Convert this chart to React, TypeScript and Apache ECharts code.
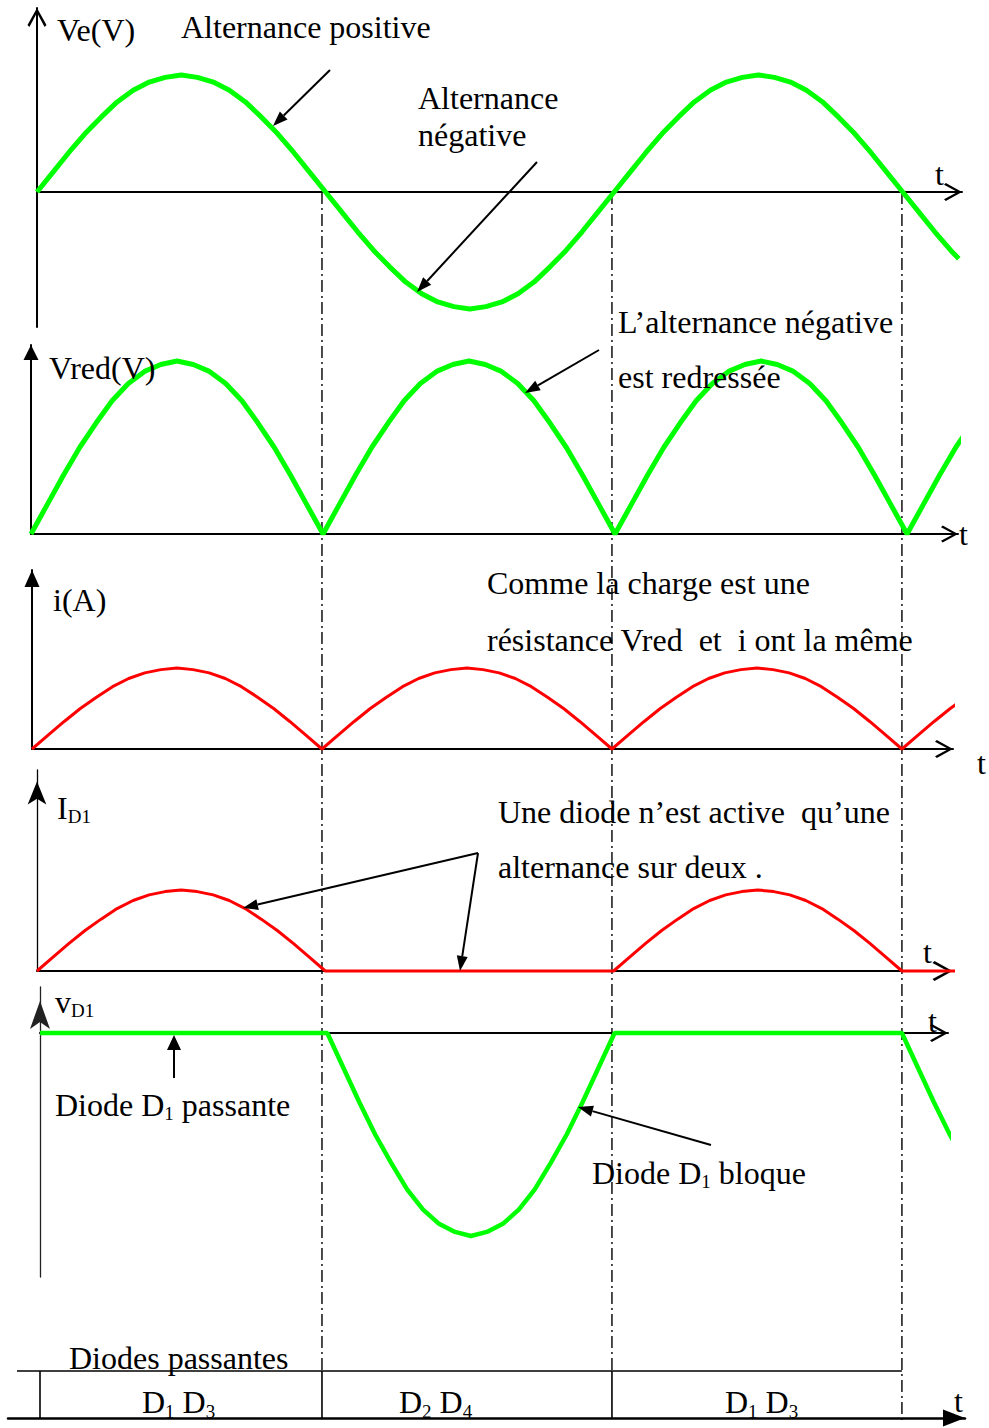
import { useEffect, useRef } from "react";
import * as echarts from "echarts";

// Phase of the supply voltage (degrees) at which each curve is read
const phaseDeg = [
  0, 10, 20, 30, 40, 50, 60, 70, 80, 90, 100, 110, 120, 130, 140, 150, 160, 170, 180,
  190, 200, 210, 220, 230, 240, 250, 260, 270, 280, 290, 300, 310, 320, 330, 340, 350, 360,
  370, 380, 390, 400, 410, 420, 430, 440, 450, 460, 470, 480, 490, 500, 510, 520, 530, 540,
  550, 560, 570, 575,
];

// Ve(V) : supply voltage (normalised)
const veValues = [
  0, 0.17, 0.34, 0.5, 0.64, 0.77, 0.87, 0.94, 0.98, 1, 0.98, 0.94, 0.87, 0.77, 0.64, 0.5, 0.34, 0.17, 0,
  -0.17, -0.34, -0.5, -0.64, -0.77, -0.87, -0.94, -0.98, -1, -0.98, -0.94, -0.87, -0.77, -0.64, -0.5, -0.34, -0.17, 0,
  0.17, 0.34, 0.5, 0.64, 0.77, 0.87, 0.94, 0.98, 1, 0.98, 0.94, 0.87, 0.77, 0.64, 0.5, 0.34, 0.17, 0,
  -0.17, -0.34, -0.5, -0.57,
];

// Vred(V) : rectified voltage
const vredValues = [
  0, 0.17, 0.34, 0.5, 0.64, 0.77, 0.87, 0.94, 0.98, 1, 0.98, 0.94, 0.87, 0.77, 0.64, 0.5, 0.34, 0.17, 0,
  0.17, 0.34, 0.5, 0.64, 0.77, 0.87, 0.94, 0.98, 1, 0.98, 0.94, 0.87, 0.77, 0.64, 0.5, 0.34, 0.17, 0,
  0.17, 0.34, 0.5, 0.64, 0.77, 0.87, 0.94, 0.98, 1, 0.98, 0.94, 0.87, 0.77, 0.64, 0.5, 0.34, 0.17, 0,
  0.17, 0.34, 0.5, 0.57,
];

// i(A) : load current
const iValues = [
  0, 0.17, 0.34, 0.5, 0.64, 0.77, 0.87, 0.94, 0.98, 1, 0.98, 0.94, 0.87, 0.77, 0.64, 0.5, 0.34, 0.17, 0,
  0.17, 0.34, 0.5, 0.64, 0.77, 0.87, 0.94, 0.98, 1, 0.98, 0.94, 0.87, 0.77, 0.64, 0.5, 0.34, 0.17, 0,
  0.17, 0.34, 0.5, 0.64, 0.77, 0.87, 0.94, 0.98, 1, 0.98, 0.94, 0.87, 0.77, 0.64, 0.5, 0.34, 0.17, 0,
  0.17, 0.34, 0.5, 0.57,
];

// ID1 : current in diode D1
const id1Values = [
  0, 0.17, 0.34, 0.5, 0.64, 0.77, 0.87, 0.94, 0.98, 1, 0.98, 0.94, 0.87, 0.77, 0.64, 0.5, 0.34, 0.17, 0,
  0, 0, 0, 0, 0, 0, 0, 0, 0, 0, 0, 0, 0, 0, 0, 0, 0, 0,
  0.17, 0.34, 0.5, 0.64, 0.77, 0.87, 0.94, 0.98, 1, 0.98, 0.94, 0.87, 0.77, 0.64, 0.5, 0.34, 0.17, 0,
  0, 0, 0, 0,
];

// vD1 : voltage across diode D1
const vd1Values = [
  0, 0, 0, 0, 0, 0, 0, 0, 0, 0, 0, 0, 0, 0, 0, 0, 0, 0, 0,
  -0.17, -0.34, -0.5, -0.64, -0.77, -0.87, -0.94, -0.98, -1, -0.98, -0.94, -0.87, -0.77, -0.64, -0.5, -0.34, -0.17, 0,
  0, 0, 0, 0, 0, 0, 0, 0, 0, 0, 0, 0, 0, 0, 0, 0, 0, 0,
  -0.17, -0.34, -0.5, -0.57,
];

// zero crossings of Ve (degrees) and conducting diodes in each half period
const zeroCrossDeg = [180, 360, 540];
const conductingPairs = [
  ["1", "3"],
  ["2", "4"],
  ["1", "3"],
];

const FONT = "'Liberation Serif', 'Times New Roman', serif";
const FS = 32;
const MAIN = `${FS}px ${FONT}`;
const GREEN = "#00ff00";
const RED = "#ff0000";
const CHEVRON = "path://M10,0 L20,18 L18,20 L10,5 L2,20 L0,18 Z";

const noDecor = {
  axisTick: { show: false },
  axisLabel: { show: false },
  splitLine: { show: false },
};

function txt(x: number, y: number, text: string) {
  return {
    type: "text",
    x,
    y,
    z: 100,
    style: { text, font: MAIN, fill: "#000", align: "left", verticalAlign: "middle" },
  };
}

function rich(x: number, y: number, parts: [string, string][], subSize = 19) {
  return {
    type: "text",
    x,
    y,
    z: 100,
    style: {
      text: parts.map(([k, s]) => `{${k}|${s}}`).join(""),
      font: MAIN,
      fill: "#000",
      align: "left",
      verticalAlign: "middle",
      rich: {
        n: { font: MAIN, fill: "#000" },
        s: { font: `${subSize}px ${FONT}`, fill: "#000", verticalAlign: "bottom", height: 14 },
      },
    },
  };
}

function arrow(x1: number, y1: number, x2: number, y2: number, len = 15, w = 11) {
  const a = Math.atan2(y2 - y1, x2 - x1);
  const bx = x2 - len * Math.cos(a);
  const by = y2 - len * Math.sin(a);
  const nx = (-Math.sin(a) * w) / 2;
  const ny = (Math.cos(a) * w) / 2;
  return [
    { type: "line", z: 100, shape: { x1, y1, x2: bx, y2: by }, style: { stroke: "#000", lineWidth: 2 } },
    {
      type: "polygon",
      z: 100,
      shape: { points: [[x2, y2], [bx + nx, by + ny], [bx - nx, by - ny]] },
      style: { fill: "#000" },
    },
  ];
}

function lineSeries(idx: number, values: number[], color: string, width: number) {
  return {
    type: "line",
    xAxisIndex: idx,
    yAxisIndex: idx,
    data: phaseDeg.map((p, i) => [p, values[i]]),
    showSymbol: false,
    symbol: "none",
    clip: false,
    silent: true,
    z: 5,
    lineStyle: { color, width },
  };
}

function xAx(idx: number, max: number, symbol: string, size: number[], width = 2, min = 0) {
  return {
    gridIndex: idx,
    type: "value",
    min,
    max,
    axisLine: {
      show: true,
      onZero: true,
      lineStyle: { color: "#000", width },
      symbol: ["none", symbol],
      symbolSize: size,
      symbolOffset: [0, -size[1] / 2],
    },
    ...noDecor,
  };
}

function yAx(idx: number, min: number, max: number, symbol: string, size: number[], width = 2, color = "#000") {
  return {
    gridIndex: idx,
    type: "value",
    min,
    max,
    axisLine: {
      show: true,
      onZero: false,
      lineStyle: { color, width },
      symbol: ["none", symbol],
      symbolSize: size,
      symbolOffset: [0, -size[1] / 2],
    },
    ...noDecor,
  };
}

export default function App() {
  const ref = useRef<HTMLDivElement>(null);

  useEffect(() => {
    if (!ref.current) return;
    const chart = echarts.init(ref.current, null, { renderer: "svg" });
    const g = (left: number, top: number, width: number, height: number) => ({
      left,
      top,
      width,
      height,
      outerBoundsMode: "none",
    });
    chart.setOption({
      animation: false,
      backgroundColor: "#fff",
      grid: [
        g(37, 8, 925, 319),
        g(31, 345, 927, 189),
        g(32, 570, 921, 179),
        g(37, 770, 916, 201),
        g(40, 987, 908, 290),
        g(8, 1370, 957, 48),
      ],
      xAxis: [
        xAx(0, 577, CHEVRON, [20, 18]),
        xAx(1, 571.4, CHEVRON, [18, 17]),
        xAx(2, 571.7, CHEVRON, [20, 18]),
        xAx(3, 571.9, CHEVRON, [20, 21]),
        xAx(4, 568.9, CHEVRON, [20, 18]),
        xAx(5, 1, "triangle", [17, 22], 2.5),
      ],
      yAxis: [
        yAx(0, -1.154, 1.573, CHEVRON, [20, 19]),
        yAx(1, 0, 1.0925, "triangle", [15, 15]),
        yAx(2, 0, 2.21, "triangle", [15, 17]),
        yAx(3, 0, 2.481, "arrow", [14, 23], 1.3),
        yAx(4, -1.202, 0.2266, "arrow", [15, 28], 1.3, "#222"),
        { gridIndex: 5, type: "value", min: 0, max: 1, show: false },
      ],
      series: [
        lineSeries(0, veValues, GREEN, 5),
        lineSeries(1, vredValues, GREEN, 5),
        lineSeries(2, iValues, RED, 3),
        lineSeries(3, id1Values, RED, 3),
        lineSeries(4, vd1Values, GREEN, 4.5),
      ],
    });

    const zx = zeroCrossDeg.map((d) => (chart.convertToPixel({ gridIndex: 2 }, [d, 0]) as number[])[0]);
    const topY = (chart.convertToPixel({ gridIndex: 0 }, [0, 0]) as number[])[1];
    const tableTop = 1371;
    const tableBottom = 1418;

    const dashes = zx.map((x, i) => ({
      type: "line",
      z: 1,
      shape: { x1: x, y1: topY, x2: x, y2: i === zx.length - 1 ? 1422 : tableTop },
      style: { stroke: "#000", lineWidth: 1.4, lineDash: [12, 4, 2, 4] },
    }));

    const table = [
      { type: "line", z: 1, shape: { x1: 17, y1: tableTop, x2: zx[2], y2: tableTop }, style: { stroke: "#000", lineWidth: 1.6 } },
      ...[40, zx[0], zx[1]].map((x) => ({
        type: "line",
        z: 1,
        shape: { x1: x, y1: tableTop, x2: x, y2: tableBottom },
        style: { stroke: "#000", lineWidth: 1.6 },
      })),
    ];

    const pairX = [142, 399, 725];
    const pairs = conductingPairs.map(([a, b], i) =>
      rich(pairX[i], 1402, [
        ["n", "D"],
        ["s", a],
        ["n", " D"],
        ["s", b],
      ])
    );

    const texts = [
      txt(57, 30, "Ve(V)"),
      txt(181, 27, "Alternance positive"),
      txt(418, 97.5, "Alternance"),
      txt(418, 134.5, "négative"),
      txt(935, 174, "t"),
      txt(618, 321.5, "L’alternance négative"),
      txt(618, 376.5, "est redressée"),
      txt(49, 367.5, "Vred(V)"),
      txt(959, 534, "t"),
      txt(53, 599.5, "i(A)"),
      txt(487, 582.5, "Comme la charge est une"),
      txt(487, 639.5, "résistance Vred  et  i ont la même"),
      txt(977, 763, "t"),
      rich(57, 807.5, [
        ["n", "I"],
        ["s", "D1"],
      ]),
      txt(498, 811.5, "Une diode n’est active  qu’une"),
      txt(498, 866.5, "alternance sur deux ."),
      txt(923, 952, "t"),
      rich(55, 1001.5, [
        ["n", "v"],
        ["s", "D1"],
      ]),
      txt(928, 1021, "t"),
      rich(55, 1104.5, [
        ["n", "Diode D"],
        ["s", "1"],
        ["n", " passante"],
      ]),
      rich(592, 1172.5, [
        ["n", "Diode D"],
        ["s", "1"],
        ["n", " bloque"],
      ]),
      txt(69, 1357.5, "Diodes passantes"),
      txt(954, 1401, "t"),
      ...pairs,
    ];

    const arrows = [
      ...arrow(330, 70, 273, 126),
      ...arrow(537, 162, 417, 292),
      ...arrow(599, 350, 525, 393),
      ...arrow(478, 853, 243, 908),
      ...arrow(478, 853, 460, 971),
      ...arrow(174, 1078, 174, 1035, 15, 14),
      ...arrow(711, 1145, 578, 1107),
    ];

    chart.setOption({ graphic: { elements: [...dashes, ...table, ...arrows, ...texts] } });

    return () => chart.dispose();
  }, []);

  return (
    <div
      ref={ref}
      style={{ position: "absolute", left: 0, top: 0, width: 989, height: 1428 }}
    />
  );
}
